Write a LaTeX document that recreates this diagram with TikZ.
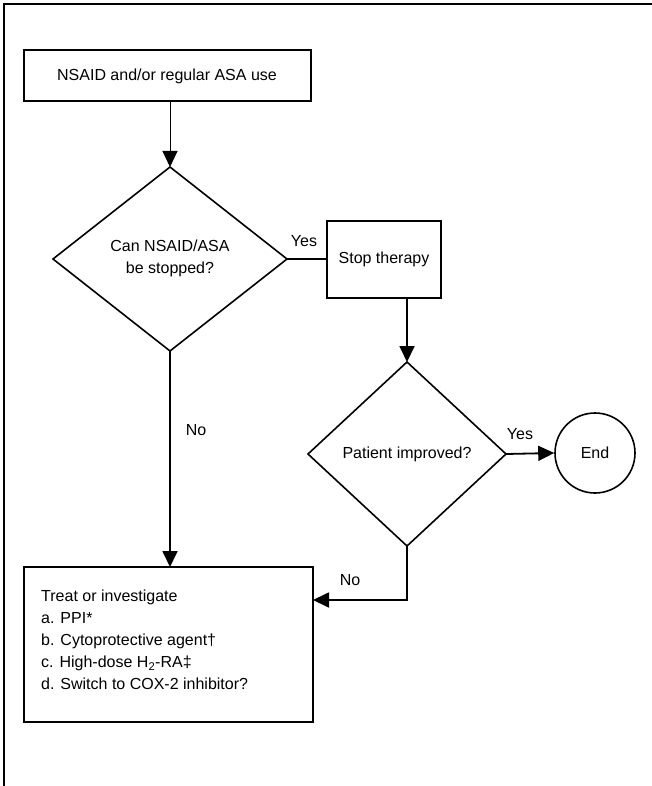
\documentclass[tikz,border=0pt]{standalone}
\usepackage{fontspec}
\setmainfont{Liberation Sans}
\usetikzlibrary{arrows.meta,shapes.geometric}
\begin{document}
\begin{tikzpicture}[x=1pt,y=-1pt,
  font=\fontsize{16}{19}\selectfont,
  boxline/.style={draw,line width=1.8pt},
  decision/.style={draw,line width=1.6pt},
  flow/.style={line width=1.8pt,-{Triangle[length=16pt,width=15pt]}},
  thinflow/.style={line width=1pt,-{Triangle[length=16pt,width=15pt]}},
  plain/.style={line width=1.8pt},
  lbl/.style={inner sep=0pt}]
\useasboundingbox (0,0) rectangle (652,786);
% page frame (top and left edges)
\draw[line width=2pt] (652,4) -- (4,4) -- (4,786);

% start box
\draw[boxline] (24,50) rectangle (311,101);
\node[lbl] (start) at (167,76) {NSAID and/or regular ASA use};
\coordinate (startb) at (170,101);

% first decision
\draw[decision] (170,167) -- (287,259) -- (170,351) -- (53,259) -- cycle;
\coordinate (d1t) at (170,167);
\coordinate (d1r) at (287,259);
\coordinate (d1b) at (170,351);
\node[lbl,align=center] (q1) at (170,258) {Can NSAID/ASA\\[3pt]be stopped?};

% stop therapy box
\draw[boxline] (327,221) rectangle (441,298);
\node[lbl] (stop) at (384,259) {Stop therapy};
\coordinate (stopl) at (327,259);
\coordinate (stopb) at (407,298);

% second decision
\draw[decision] (407,362) -- (506,454) -- (407,546) -- (308,454) -- cycle;
\coordinate (d2t) at (407,362);
\coordinate (d2r) at (506,454);
\coordinate (d2b) at (407,546);
\node[lbl] (q2) at (407,454) {Patient improved?};

% end circle
\node[draw,circle,line width=1.6pt,minimum size=80pt,inner sep=0pt] (end) at (595,453) {End};

% treatment box
\draw[boxline] (24,567) rectangle (313,722);
\coordinate (treatt) at (170,567);
\coordinate (treatr) at (313,600);
\node[lbl,anchor=north west,align=left] (treat) at (41,590)
  {Treat or investigate\\[3pt]a. PPI*\\[3pt]b. Cytoprotective agent\dag\\[3pt]
   c. High-dose H\textsubscript{2}-RA\ddag\\[3pt]d. Switch to COX-2 inhibitor?};

% connectors
\draw[thinflow] (startb) -- (d1t);
\draw[plain] (d1r) -- (stopl);
\node[lbl] (yes1) at (304,241) {Yes};
\draw[flow] (stopb) -- (d2t);
\draw[flow] (d2r) -- (end.west);
\node[lbl] (yes2) at (520,434) {Yes};
\draw[flow] (d1b) -- (treatt);
\node[lbl] (no1) at (196,430) {No};
\draw[flow] (d2b) |- (treatr);
\node[lbl] (no2) at (350,580) {No};
\end{tikzpicture}
\end{document}
